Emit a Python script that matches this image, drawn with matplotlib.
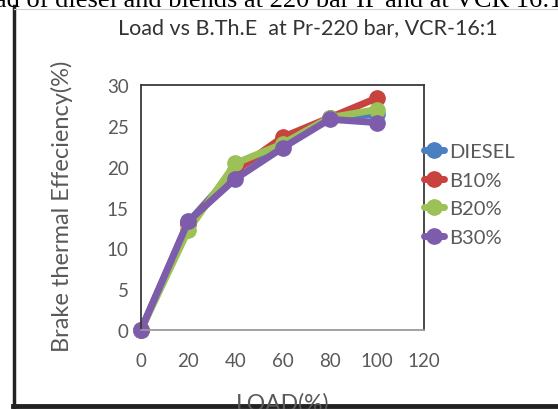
import matplotlib
matplotlib.use("Agg")
import matplotlib.pyplot as plt
from matplotlib.lines import Line2D

load = [0, 20, 40, 60, 80, 100]
diesel = [0, 13.2, 19.6, 23.0, 26.0, 26.4]
b10 = [0, 13.0, 19.5, 23.6, 26.0, 28.4]
b20 = [0, 12.2, 20.4, 22.8, 26.0, 27.0]
b30 = [0, 13.3, 18.5, 22.3, 25.8, 25.4]
series_names = ["DIESEL", "B10%", "B20%", "B30%"]
x_ticks = [0, 20, 40, 60, 80, 100, 120]
y_ticks = [0, 5, 10, 15, 20, 25, 30]

colors = ["#4A7FC1", "#C8423E", "#9BC157", "#7D5CAC"]
font = ["Lato", "DejaVu Sans"]
gray = "#595959"

W, H = 558, 410
fig = plt.figure(figsize=(W / 100, H / 100), dpi=100)
fig.patch.set_facecolor("white")

def fx(px):
    return px / W

def fy(py):
    return 1 - py / H

ax = fig.add_axes([fx(141), fy(331), fx(424) - fx(141), fy(86) - fy(331)])
for name, vals, c in zip(series_names, [diesel, b10, b20, b30], colors):
    ax.plot(load, vals, color=c, lw=5, marker="o", ms=11, mec=c, mfc=c,
            label=name, solid_capstyle="round", solid_joinstyle="round",
            clip_on=False)

ax.set_xlim(0, 120)
ax.set_ylim(0, 30)
ax.set_xticks(x_ticks)
ax.set_yticks(y_ticks)
ax.tick_params(length=0, labelsize=13.5, colors=gray)
ax.tick_params(axis="x", pad=16)
ax.tick_params(axis="y", pad=9)
for lab in ax.get_xticklabels() + ax.get_yticklabels():
    lab.set_family(font)
for side in ["top", "right", "left"]:
    ax.spines[side].set_color("#3a3a3a")
    ax.spines[side].set_linewidth(1.3)
ax.spines["bottom"].set_color("#9a9a9a")
ax.spines["bottom"].set_linewidth(1.3)

leg = ax.legend(loc="center left", bbox_to_anchor=(0.935, 0.553), frameon=False,
                handlelength=1.0, handletextpad=0.25, labelspacing=0.58,
                prop={"family": font, "size": 14.5})
for t in leg.get_texts():
    t.set_color(gray)

fig.text(fx(308), fy(28), "Load vs B.Th.E  at Pr-220 bar, VCR-16:1",
         ha="center", va="center", fontsize=15.5, color="#333333", family=font)
fig.text(fx(62), fy(206), "Brake thermal Effeciency(%)", rotation=90,
         ha="center", va="center", fontsize=17, color=gray, family=font)
fig.text(fx(283), fy(393), "LOAD(%)", ha="center", va="top",
         fontsize=16.5, color=gray, family=font)
fig.text(fx(279), fy(1), "ad of diesel and blends at 220 bar IP and at VCR 16:1",
         ha="center", va="center", fontsize=19, color="black",
         family=["Liberation Serif", "DejaVu Serif"])

# outer frame
fig.add_artist(Line2D([fx(14), fx(14)], [fy(7), fy(408)], color="#222222", lw=2.5))
fig.add_artist(Line2D([fx(13), fx(558)], [fy(407), fy(407)], color="#222222", lw=3.5))
fig.add_artist(Line2D([fx(14), fx(558)], [fy(10), fy(10)], color="#cfcfcf", lw=0.8))

fig.savefig("out.png", dpi=100, facecolor="white")
